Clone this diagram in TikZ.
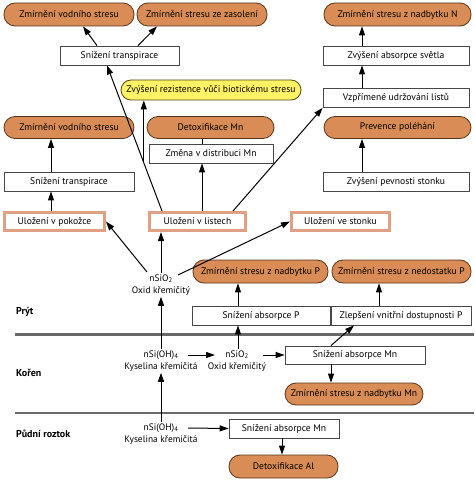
\documentclass[tikz,border=0pt]{standalone}
\usepackage{fontspec}
\setmainfont{PT Sans}
\usetikzlibrary{arrows.meta,calc}
\definecolor{orangefill}{RGB}{217,140,85}
\definecolor{orangeedge}{RGB}{85,52,28}
\definecolor{yellowfill}{RGB}{255,242,100}
\definecolor{yellowedge}{RGB}{80,70,20}
\definecolor{boxedge}{RGB}{70,70,70}
\definecolor{hiedge}{RGB}{224,160,132}
\definecolor{rulegray}{RGB}{105,105,105}
\begin{document}
\begin{tikzpicture}[x=1pt,y=-1pt,
  txt/.style={font=\fontsize{9.6}{11}\selectfont},
  obox/.style={txt,draw=orangeedge,fill=orangefill,rounded corners=11pt,line width=0.8pt,minimum height=23pt,inner sep=0pt},
  ybox/.style={txt,draw=yellowedge,fill=yellowfill,rounded corners=10pt,line width=0.8pt,minimum height=20pt,inner sep=0pt},
  wbox/.style={txt,draw=boxedge,fill=white,line width=0.8pt,minimum height=19pt,inner sep=0pt},
  hbox/.style={txt,draw=hiedge,fill=white,line width=3pt,minimum height=18pt,inner sep=0pt},
  chem/.style={align=center,inner sep=1pt,font=\fontsize{9.4}{12.5}\selectfont},
  lbl/.style={anchor=west,inner sep=0pt,font=\bfseries\fontsize{10}{12}\selectfont},
  arr/.style={-{Triangle[length=9pt,width=6pt]},line width=1pt,draw=black},
  plain/.style={line width=1pt,draw=black},
  rule/.style={line width=2.5pt,draw=rulegray}]
\useasboundingbox (0,0) rectangle (474,481);

% top level
\node[obox,minimum width=130pt] (o1) at (69,14.5) {Zmírnění vodního stresu};
\node[obox,minimum width=130pt] (o2) at (202,14.5) {Zmírnění stresu ze zasolení};
\node[obox,minimum width=147pt] (o3) at (397.5,14.5) {Zmírnění stresu z nadbytku N};
\node[wbox,minimum width=119pt] (w1) at (119.5,55.5) {Snížení transpirace};
\node[wbox,minimum width=146pt] (w2) at (396,55.5) {Zvýšení absorpce světla};
\node[ybox,minimum width=180pt] (y1) at (211,90) {Zvýšení rezistence vůči biotickému stresu};
\node[wbox,minimum width=146pt] (w3) at (396,98) {Vzpřímené udržování listů};
\node[obox,minimum width=130pt,minimum height=22pt] (o5) at (69,127.5) {Zmírnění vodního stresu};
\node[obox,minimum width=127pt,minimum height=22pt] (o6) at (210.5,127.5) {Detoxifikace Mn};
\node[obox,minimum width=147pt,minimum height=22pt] (o4) at (397.5,127.5) {Prevence poléhání};
\node[wbox,minimum width=124pt] (w4) at (211,153.5) {Změna v distribuci Mn};
\node[wbox,minimum width=130pt] (w5) at (69,181.5) {Snížení transpirace};
\node[wbox,minimum width=146pt] (w6) at (396,181.5) {Zvýšení pevnosti stonku};
\node[hbox,minimum width=100pt] (h1) at (54.5,221.5) {Uložení v pokožce};
\node[hbox,minimum width=96pt] (h2) at (197.5,221.5) {Uložení v listech};
\node[hbox,minimum width=98pt] (h3) at (340.5,221.5) {Uložení ve stonku};
\node[chem] (s1) at (161,285) {nSiO\textsubscript{2}\\Oxid křemičitý};
\node[obox,minimum width=135pt] (o7) at (260.5,271.5) {Zmírnění stresu z nadbytku P};
\node[obox,minimum width=139pt] (o8) at (401.5,271.5) {Zmírnění stresu z nedostatku P};
\node[wbox,minimum width=138pt] (w7) at (261,315.5) {Snížení absorpce P};
\node[wbox,minimum width=140pt] (w8) at (401,315.5) {Zlepšení vnitřní dostupnosti P};

% separators and zone labels
\coordinate (r1a) at (15,334.5); \coordinate (r1b) at (474,334.5);
\coordinate (r2a) at (15,413); \coordinate (r2b) at (474,413);
\draw[rule] (r1a) -- (r1b);
\draw[rule] (r2a) -- (r2b);
\node[lbl] (l1) at (16,312) {Prýt};
\node[lbl] (l2) at (16,373) {Kořen};
\node[lbl] (l3) at (16,434) {Půdní roztok};

% root
\node[chem] (s2) at (161,361) {nSi(OH)\textsubscript{4}\\Kyselina křemičitá};
\node[chem] (s3) at (237,361) {nSiO\textsubscript{2}\\Oxid křemičitý};
\node[wbox,minimum width=140pt,minimum height=18pt] (w9) at (355,355) {Snížení absorpce Mn};
\node[obox,minimum width=138pt,minimum height=22pt] (o9) at (354,394) {Zmírnění stresu z nadbytku Mn};

% soil
\node[chem] (s4) at (161,434) {nSi(OH)\textsubscript{4}\\Kyselina křemičitá};
\node[wbox,minimum width=110pt] (w10) at (284,428.5) {Snížení absorpce Mn};
\node[obox,minimum width=109pt] (o10) at (283.5,466.5) {Detoxifikace Al};

% columns
\coordinate (cA) at (51,0);
\coordinate (cB) at (161,0);
\coordinate (cC) at (202,0);
\coordinate (cD) at (362,0);
\coordinate (cE) at (238,0);
\coordinate (cF) at (379,0);
\coordinate (cG) at (331,0);
\coordinate (cH) at (282,0);

% connectors
\draw[arr] ([xshift=-22.5pt]w1.north) -- ([xshift=14pt]o1.south);
\draw[arr] ([xshift=18.5pt]w1.north) -- ([xshift=-45pt]o2.south);
\draw[arr] (cD |- w2.north) -- (cD |- o3.south);
\draw[arr] (cD |- w3.north) -- (cD |- w2.south);
\draw[arr] (cD |- w6.north) -- (cD |- o4.south);
\draw[arr] (cA |- w5.north) -- (cA |- o5.south);
\draw[arr] (cA |- h1.north) -- (cA |- w5.south);
\draw[arr] (cC |- h2.north) -- (cC |- w4.south);
\draw[plain] (cC |- w4.north) -- (cC |- o6.south);
\coordinate (dA) at ([xshift=-35.5pt]h2.north);
\coordinate (dB) at ([xshift=-12.5pt]w1.south);
\draw[arr] (dA) -- (dB);
\path (dA) -- (dB) coordinate[pos=0.331] (br);
\draw[arr] (br) -- (br |- y1.south);
\draw[arr] ([xshift=35.5pt]h2.north) -- (w3.south west);
\draw[arr] ([xshift=-14pt,yshift=13pt]s1.center) -- (h1.east);
\draw[arr] (cB |- s1.north) -- (cB |- h2.south);
\draw[arr] ([xshift=17pt,yshift=10pt]s1.center) -- (h3.west);
\draw[arr] (cB |- s2.north) -- (cB |- s1.south);
\draw[arr] (cB |- s4.north) -- (cB |- s2.south);
\draw[arr] ([xshift=27pt,yshift=6pt]s2.center) -- ([xshift=-22pt,yshift=6pt]s3.center);
\draw[arr] ([xshift=26pt,yshift=6pt]s3.center) -- (w9.west);
\draw[arr] (cE |- s3.north) -- (cE |- w7.south);
\draw[arr] (cE |- w7.north) -- (cE |- o7.south);
\draw[arr] (cF |- w8.north) -- (cF |- o8.south);
\draw[arr] ([xshift=-24pt]w9.north) -- ([xshift=-47pt]w8.south);
\draw[arr] (cG |- w9.south) -- (cG |- o9.north);
\draw[arr] ([xshift=27pt,yshift=6pt]s4.center) -- (w10.west);
\draw[arr] (cH |- w10.south) -- (cH |- o10.north);
\end{tikzpicture}
\end{document}
